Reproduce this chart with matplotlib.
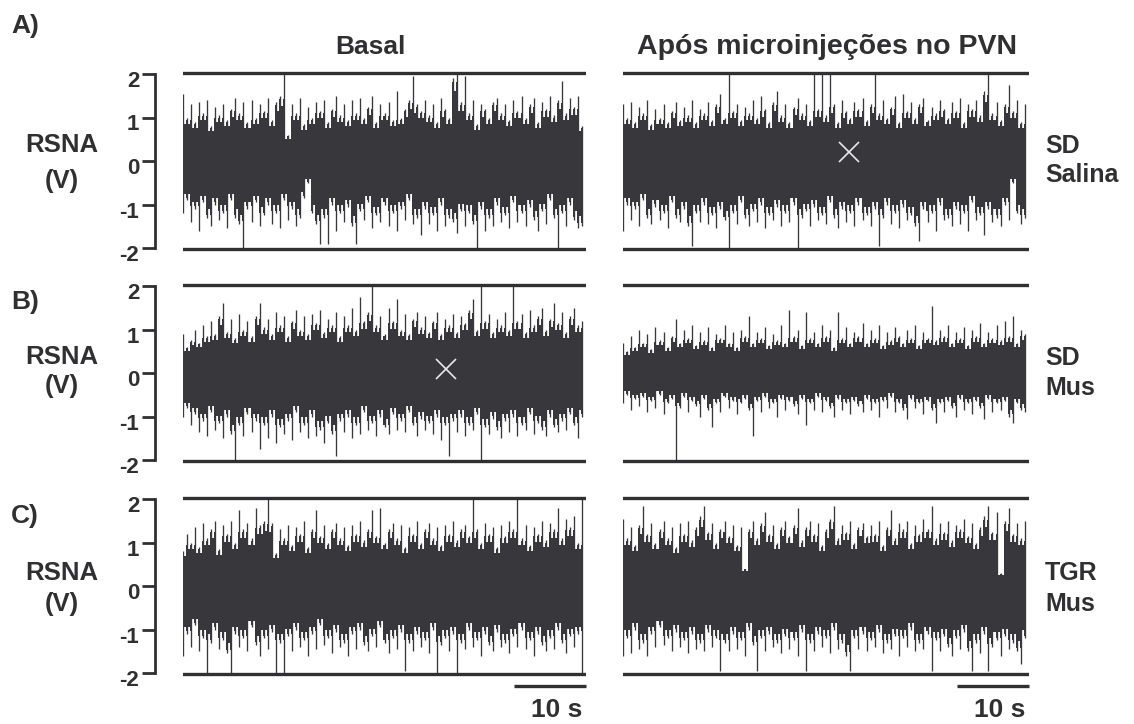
import matplotlib.pyplot as plt
import matplotlib.transforms as mtransforms
import numpy as np

plt.rcParams['font.family'] = ['Liberation Sans', 'DejaVu Sans']
plt.rcParams['font.weight'] = 'bold'

# RSNA peaks (V): one positive and one negative excursion every DT seconds
DT = 0.56
T_END = 56

a_basal_up = [1.55, 1.0, 1.3, 0.9, 1.35, 1.1, 1.4, 0.8, 1.25, 1.05, 1.3, 0.95, 1.2, 1.45, 1.1, 1.35, 0.9, 1.4, 1.0, 1.3,
              1.15, 1.45, 0.95, 1.35, 1.5, 2.0, 0.6, 1.3, 1.1, 1.45, 0.85, 1.25, 1.0, 1.35, 1.15, 1.4, 0.9, 1.2, 1.5, 1.05,
              1.3, 0.95, 1.4, 1.1, 1.45, 1.0, 1.25, 1.5, 0.9, 1.3, 1.1, 1.35, 0.95, 1.6, 1.0, 1.2, 1.4, 1.95, 1.3, 1.15,
              1.4, 1.05, 1.3, 0.9, 1.45, 1.2, 1.0, 1.9, 2.0, 1.35, 1.95, 1.1, 1.4, 0.85, 1.3, 1.2, 1.0, 1.35, 1.45, 1.1,
              1.3, 0.95, 1.4, 1.15, 1.5, 1.0, 1.3, 1.45, 0.9, 1.35, 1.2, 1.5, 1.05, 1.4, 1.85, 1.1, 1.45, 1.25, 1.5, 0.8]
a_basal_lo = [-1.2, -0.9, -1.4, -1.1, -1.6, -0.95, -1.3, -1.5, -1.0, -1.35, -1.2, -1.55, -0.9, -1.3, -1.45, -2.0, -1.1, -1.4, -0.95, -1.5,
              -1.25, -1.0, -1.45, -1.2, -1.55, -0.9, -1.35, -1.1, -1.5, -1.3, -0.85, -0.5, -1.2, -1.45, -1.9, -1.3, -1.9, -1.0, -1.6, -1.2,
              -1.4, -1.05, -1.5, -1.9, -1.15, -1.35, -0.95, -1.55, -1.25, -1.4, -1.0, -1.5, -1.2, -1.6, -1.1, -1.35, -0.9, -1.45, -1.3, -1.7,
              -1.1, -1.45, -1.25, -1.6, -1.0, -1.5, -1.3, -1.4, -1.65, -1.15, -1.5, -1.2, -1.45, -2.0, -1.1, -1.6, -1.3, -1.5, -1.0, -1.4,
              -1.25, -1.55, -0.95, -1.4, -1.2, -1.5, -1.05, -1.35, -1.6, -1.15, -1.45, -0.9, -1.3, -2.0, -1.2, -1.5, -1.0, -1.35, -1.55, -1.5]
a_pvn_up = [1.3, 1.0, 1.35, 0.9, 1.25, 1.1, 1.4, 0.85, 1.2, 1.0, 1.3, 0.9, 1.15, 1.35, 0.95, 1.25, 1.05, 1.4, 0.9, 1.2,
            1.1, 1.35, 0.95, 1.3, 1.55, 1.0, 2.0, 1.15, 1.3, 0.95, 1.25, 1.1, 1.4, 1.0, 1.5, 1.2, 0.9, 1.35, 1.6, 1.05,
            1.3, 0.9, 1.25, 1.45, 1.1, 1.3, 0.95, 2.0, 1.2, 2.0, 1.05, 2.0, 1.3, 0.9, 1.4, 1.15, 1.0, 1.35, 1.2, 1.45,
            0.95, 1.3, 2.0, 1.1, 1.4, 1.0, 1.25, 1.5, 0.9, 1.55, 1.15, 1.35, 1.0, 1.3, 1.45, 0.95, 1.25, 1.1, 1.4, 1.2,
            1.0, 1.35, 1.15, 1.45, 0.9, 1.3, 1.2, 1.4, 1.05, 1.6, 2.0, 1.1, 1.35, 0.95, 1.3, 1.75, 1.15, 1.4, 0.9, 1.3]
a_pvn_lo = [-1.6, -1.0, -1.35, -1.1, -1.5, -0.9, -1.3, -1.45, -1.05, -1.35, -1.2, -1.55, -0.95, -1.3, -1.4, -1.1, -1.5, -1.95, -1.2, -1.4,
            -1.0, -1.45, -1.25, -1.55, -1.1, -1.35, -2.0, -1.2, -1.45, -0.95, -1.3, -1.5, -1.15, -1.4, -1.0, -1.55, -1.25, -1.35, -1.05, -1.5,
            -1.2, -1.4, -1.0, -2.0, -1.3, -1.15, -1.5, -1.05, -1.35, -1.25, -1.45, -0.95, -1.3, -1.55, -1.1, -1.4, -1.2, -1.5, -1.0, -1.35,
            -1.25, -1.5, -1.1, -1.95, -1.3, -1.0, -1.45, -1.2, -1.55, -1.05, -1.35, -1.25, -1.5, -1.85, -1.1, -1.4, -1.2, -1.6, -1.0, -1.35,
            -1.3, -1.5, -1.1, -1.45, -1.2, -1.6, -0.95, -1.35, -1.25, -1.7, -1.1, -1.4, -1.3, -1.5, -1.0, -1.35, -0.5, -1.2, -1.45, -1.3]

b_basal_up = [0.9, 0.6, 0.75, 1.0, 0.7, 1.1, 0.85, 1.2, 0.9, 1.3, 1.6, 0.95, 1.25, 0.8, 1.35, 1.0, 1.2, 0.85, 1.3, 1.6,
              1.05, 1.25, 0.9, 1.4, 1.1, 1.3, 0.85, 1.2, 1.45, 1.0, 1.3, 0.9, 1.35, 1.15, 1.45, 0.95, 1.25, 1.1, 1.4, 0.85,
              1.3, 1.1, 1.5, 1.0, 1.75, 1.2, 1.4, 2.05, 1.1, 1.3, 0.9, 1.5, 1.2, 1.7, 1.0, 1.35, 0.9, 1.25, 1.4, 1.05,
              1.3, 0.95, 1.2, 1.4, 0.9, 1.25, 1.1, 1.35, 0.95, 1.3, 1.15, 1.45, 1.7, 1.0, 2.05, 1.2, 1.35, 0.95, 1.25, 1.1,
              1.4, 1.0, 2.05, 1.2, 1.35, 0.95, 1.45, 1.1, 1.3, 1.5, 1.0, 1.25, 1.6, 1.15, 1.4, 0.95, 1.3, 1.5, 1.1, 1.2]
b_basal_lo = [-1.0, -0.8, -1.2, -0.95, -1.35, -1.1, -1.45, -0.9, -1.3, -1.15, -1.5, -1.0, -1.4, -2.0, -1.2, -1.45, -0.95, -1.35, -1.1, -1.75,
              -1.2, -1.5, -1.0, -1.6, -1.25, -1.4, -1.1, -1.55, -0.9, -1.35, -1.2, -1.5, -1.0, -1.45, -1.3, -1.6, -1.15, -1.4, -1.9, -1.1,
              -1.35, -1.0, -1.5, -1.2, -1.4, -0.9, -1.3, -1.15, -1.45, -1.0, -1.25, -1.4, -0.95, -1.3, -1.1, -1.35, -0.9, -1.2, -1.45, -1.05,
              -1.3, -1.15, -1.4, -1.0, -1.55, -1.2, -1.9, -1.1, -1.35, -1.0, -1.45, -1.2, -1.3, -0.95, -2.0, -1.25, -1.4, -1.05, -1.3, -1.5,
              -1.1, -1.35, -1.0, -1.45, -1.2, -1.3, -0.95, -1.4, -1.15, -1.3, -1.45, -1.0, -1.25, -1.35, -1.1, -1.3, -0.95, -1.2, -1.5, -1.0]
b_pvn_up = [0.7, 0.5, 0.85, 0.6, 1.0, 0.7, 0.9, 0.55, 1.05, 0.75, 0.95, 0.6, 0.85, 1.25, 0.7, 1.0, 0.8, 1.1, 0.65, 0.95,
            0.75, 1.05, 0.6, 0.9, 0.8, 1.1, 0.7, 0.95, 0.6, 1.0, 0.85, 1.3, 0.7, 0.95, 0.8, 1.05, 0.65, 0.9, 0.75, 1.1,
            0.7, 1.45, 0.85, 1.0, 0.65, 1.4, 0.8, 0.95, 0.7, 1.1, 0.85, 1.0, 0.6, 1.4, 0.8, 1.05, 0.7, 0.95, 0.85, 1.15,
            0.7, 1.0, 0.8, 1.1, 0.65, 0.95, 0.75, 1.05, 0.85, 0.7, 1.0, 0.8, 1.1, 0.65, 0.95, 0.8, 1.55, 0.75, 1.0, 0.85,
            1.1, 0.7, 0.95, 0.8, 1.05, 0.65, 1.0, 0.85, 1.15, 0.7, 0.95, 0.8, 1.1, 0.75, 1.2, 0.85, 1.3, 0.7, 1.0, 0.9]
b_pvn_lo = [-0.7, -0.5, -0.85, -0.6, -0.75, -0.55, -0.9, -0.65, -0.8, -0.5, -0.95, -0.7, -0.6, -2.05, -0.8, -0.55, -0.9, -0.65, -0.75, -1.0,
            -0.6, -0.85, -1.25, -0.7, -0.9, -0.55, -0.8, -0.65, -0.95, -0.7, -0.6, -0.85, -1.45, -0.65, -0.9, -0.55, -0.8, -0.7, -1.0, -0.6,
            -0.85, -0.65, -0.75, -0.95, -0.6, -1.2, -0.7, -0.85, -0.55, -0.9, -0.65, -0.8, -1.0, -0.6, -0.85, -0.7, -0.95, -0.65, -0.75, -0.9,
            -0.6, -0.85, -0.7, -1.0, -0.65, -0.8, -0.55, -0.9, -0.7, -0.85, -1.05, -0.6, -0.8, -0.7, -0.95, -0.65, -0.85, -1.15, -0.7, -0.9,
            -0.65, -0.8, -1.0, -0.6, -0.85, -0.7, -0.95, -0.65, -0.8, -1.05, -0.6, -0.9, -0.7, -0.85, -0.65, -1.0, -1.15, -0.7, -0.85, -0.9]

c_basal_up = [0.8, 1.2, 1.0, 1.35, 0.9, 1.45, 1.1, 1.3, 1.5, 0.85, 1.4, 1.2, 1.5, 1.0, 1.75, 1.3, 1.45, 1.1, 1.8, 1.4,
              1.5, 2.0, 1.45, 0.75, 1.3, 1.1, 1.4, 0.95, 1.35, 1.2, 1.5, 0.9, 1.3, 1.75, 1.15, 1.4, 1.0, 1.3, 1.45, 1.1,
              1.35, 0.95, 1.4, 1.2, 1.5, 1.05, 1.3, 1.75, 1.15, 1.8, 1.0, 1.3, 1.45, 1.1, 1.4, 0.9, 1.35, 1.2, 1.5, 1.0,
              1.3, 1.45, 1.1, 1.35, 0.95, 1.4, 1.2, 1.5, 1.05, 1.3, 1.4, 1.15, 2.0, 1.3, 1.0, 1.45, 1.2, 1.35, 0.9, 1.4,
              1.15, 1.5, 1.3, 2.0, 1.1, 1.4, 0.95, 1.35, 1.2, 1.5, 1.05, 1.45, 1.3, 1.8, 1.1, 1.55, 1.35, 1.6, 1.0, 2.0]
c_basal_lo = [-1.6, -1.1, -1.4, -0.9, -1.5, -1.2, -2.0, -1.3, -1.0, -1.45, -1.25, -1.55, -2.0, -1.1, -1.4, -1.2, -1.5, -0.95, -1.35, -1.6,
              -1.2, -1.45, -1.05, -2.0, -1.3, -2.0, -1.15, -1.5, -1.0, -1.4, -1.25, -1.6, -1.1, -1.45, -0.9, -1.35, -1.2, -1.55, -1.05, -1.4,
              -1.3, -1.6, -1.1, -1.45, -1.0, -1.35, -1.5, -1.15, -1.4, -0.95, -1.3, -1.55, -1.2, -1.45, -1.05, -1.95, -1.3, -1.5, -1.1, -1.4,
              -1.25, -1.55, -1.0, -2.0, -1.35, -1.2, -1.5, -1.1, -2.0, -1.3, -1.45, -1.0, -1.4, -1.25, -1.6, -1.1, -1.35, -1.5, -1.05, -1.4,
              -1.3, -1.55, -1.15, -1.4, -1.0, -1.45, -1.25, -1.6, -1.1, -1.35, -1.5, -1.2, -1.45, -1.0, -1.3, -1.55, -1.15, -1.4, -1.1, -2.05]
c_pvn_up = [1.55, 1.1, 1.35, 0.95, 1.4, 1.85, 1.2, 1.45, 1.0, 1.3, 1.5, 1.1, 1.35, 0.9, 1.45, 1.2, 1.5, 1.05, 1.35, 1.6,
            1.85, 1.25, 1.45, 1.0, 1.3, 1.5, 1.15, 1.4, 0.95, 1.35, 0.4, 1.3, 1.5, 1.1, 1.45, 1.7, 1.2, 1.4, 1.0, 1.35,
            1.5, 1.15, 1.4, 1.8, 1.05, 1.35, 1.5, 1.2, 1.45, 0.95, 1.3, 1.55, 1.85, 1.1, 1.4, 1.25, 1.5, 1.0, 1.35, 1.45,
            1.15, 1.4, 1.2, 1.5, 0.95, 1.35, 1.75, 1.1, 1.45, 1.3, 1.5, 1.0, 1.4, 1.2, 1.55, 1.3, 1.85, 1.1, 1.45, 1.25,
            1.5, 1.05, 1.4, 1.3, 1.55, 1.15, 1.45, 1.0, 1.35, 1.6, 1.85, 1.25, 1.7, 0.3, 1.5, 1.8, 1.2, 1.45, 1.1, 1.5]
c_pvn_lo = [-1.6, -1.2, -1.55, -1.0, -1.45, -1.3, -1.6, -1.1, -1.4, -0.95, -1.35, -1.2, -1.5, -1.05, -1.4, -1.25, -1.55, -1.1, -1.45, -1.3,
            -1.5, -1.05, -1.4, -1.2, -1.95, -1.3, -1.5, -1.1, -1.45, -1.25, -1.6, -1.0, -1.35, -1.95, -1.2, -1.5, -1.1, -1.4, -1.3, -1.55,
            -1.15, -1.45, -1.25, -1.6, -1.05, -1.95, -1.3, -1.5, -1.1, -1.4, -1.2, -1.55, -1.0, -1.45, -1.3, -1.6, -1.95, -1.2, -1.45, -1.1,
            -1.5, -1.25, -1.4, -1.05, -1.55, -1.3, -1.45, -1.15, -1.6, -1.2, -1.4, -1.0, -1.5, -1.3, -1.45, -1.1, -1.95, -1.25, -1.5, -1.15,
            -1.4, -1.6, -1.2, -1.45, -1.05, -1.5, -1.95, -1.3, -1.55, -1.1, -1.95, -1.4, -1.25, -1.6, -1.15, -1.45, -1.3, -1.5, -1.8, -1.2]

# artefact marks (time s, V) left on two of the recordings
a_pvn_mark = (31.2, 0.21)
b_basal_mark = (36.6, 0.1)

row_tags = ['A)', 'B)', 'C)']
group_labels = [('SD', 'Salina'), ('SD', 'Mus'), ('TGR', 'Mus')]
column_titles = ['Basal', 'Após microinjeções no PVN']
yticks = [-2, -1, 0, 1, 2]
scale_s = 10

TRACE = '#38373b'
INK = '#303032'
W, H = 1134, 724


def band_edge(p, upper):
    # solid part of the trace: a peak only widens into a bar when a
    # neighbour is nearly as large, otherwise it stays a thin stroke
    inner = np.minimum if upper else np.maximum
    outer = np.maximum if upper else np.minimum
    nb = outer(np.r_[p[1], p[:-1]], np.r_[p[1:], p[-2]])
    edge = np.empty(2 * len(p) - 1)
    edge[0::2] = 0.95 * inner(p, nb)
    edge[1::2] = 0.85 * inner(p[:-1], p[1:])
    return edge


def draw_trace(ax, up, lo):
    up = np.asarray(up)
    lo = np.asarray(lo)
    t = np.arange(len(up)) * DT
    x = np.empty(2 * len(up) - 1)
    x[0::2] = t
    x[1::2] = t[:-1] + DT / 2
    ax.fill_between(x, band_edge(lo, False), band_edge(up, True),
                    step='mid', color=TRACE, lw=0)
    ax.vlines(t, lo, up, color=TRACE, lw=0.95)


fig = plt.figure(figsize=(W / 100, H / 100), dpi=100)

traces = [[(a_basal_up, a_basal_lo), (a_pvn_up, a_pvn_lo)],
          [(b_basal_up, b_basal_lo), (b_pvn_up, b_pvn_lo)],
          [(c_basal_up, c_basal_lo), (c_pvn_up, c_pvn_lo)]]
row_mid = [161, 373, 586]          # y pixel of 0 V
px_per_v = 43.5
col_left = [183, 623]
col_width = [403, 406]
half = 2.2

label_shift = mtransforms.ScaledTranslation(0, -5 / 100, fig.dpi_scale_trans)

axes = []
for r in range(3):
    row_axes = []
    for c in range(2):
        top = row_mid[r] - half * px_per_v
        ax = fig.add_axes([col_left[c] / W, 1 - (top + 2 * half * px_per_v) / H,
                           col_width[c] / W, 2 * half * px_per_v / H])
        ax.set_xlim(0, T_END)
        ax.set_ylim(-half, half)
        draw_trace(ax, *traces[r][c])
        ax.axhline(2.02, color=INK, lw=2.4)
        ax.axhline(-2.02, color=INK, lw=2.4)
        for s in ['top', 'right', 'bottom']:
            ax.spines[s].set_visible(False)
        ax.set_xticks([])
        if c == 0:
            ax.spines['left'].set_position(('outward', 20))
            ax.spines['left'].set_bounds(-2, 2)
            ax.spines['left'].set_linewidth(2.0)
            ax.spines['left'].set_color(INK)
            ax.set_yticks(yticks)
            ax.set_yticklabels([str(v) for v in yticks])
            ax.tick_params(axis='y', length=9.5, width=2.0, color=INK,
                           labelcolor=INK, labelsize=16, pad=2)
            for lab in ax.get_yticklabels():
                lab.set_transform(lab.get_transform() + label_shift)
        else:
            ax.spines['left'].set_visible(False)
            ax.set_yticks([])
        row_axes.append(ax)
    axes.append(row_axes)

axes[0][1].plot(*a_pvn_mark, marker='x', color='#e8e8e8', ms=14, mew=1.2)
axes[1][0].plot(*b_basal_mark, marker='x', color='#e8e8e8', ms=14, mew=1.2)

# 10 s scale bars under the bottom row
for ax in axes[2]:
    ax.plot([T_END - scale_s, T_END], [-2.3, -2.3], color=INK, lw=2.4,
            clip_on=False, solid_capstyle='butt')
    ax.text(T_END - scale_s / 2 + 0.9, -2.86, f'{scale_s} s', ha='center',
            va='center', fontsize=19, color=INK, clip_on=False)


def ftext(x, y, s, **kw):
    fig.text(x / W, 1 - y / H, s, color=INK, **kw)


tag_y = [26, 302, 516]
rsna_y = [(145, 181), (357, 386), (573, 604)]
group_y = [(146, 175), (358, 388), (573, 604)]
for r in range(3):
    ftext(11, tag_y[r], row_tags[r], fontsize=19, ha='left', va='center')
    ftext(62, rsna_y[r][0], 'RSNA', fontsize=18.5, ha='center', va='center')
    ftext(62, rsna_y[r][1], '(V)', fontsize=18.5, ha='center', va='center')
    ftext(1045, group_y[r][0], group_labels[r][0], fontsize=18, ha='left', va='center')
    ftext(1045, group_y[r][1], group_labels[r][1], fontsize=18, ha='left', va='center')

ftext(370, 47, column_titles[0], fontsize=19, ha='center', va='center')
ftext(827, 47, column_titles[1], fontsize=20.5, ha='center', va='center')

fig.savefig('out.png', dpi=100)
